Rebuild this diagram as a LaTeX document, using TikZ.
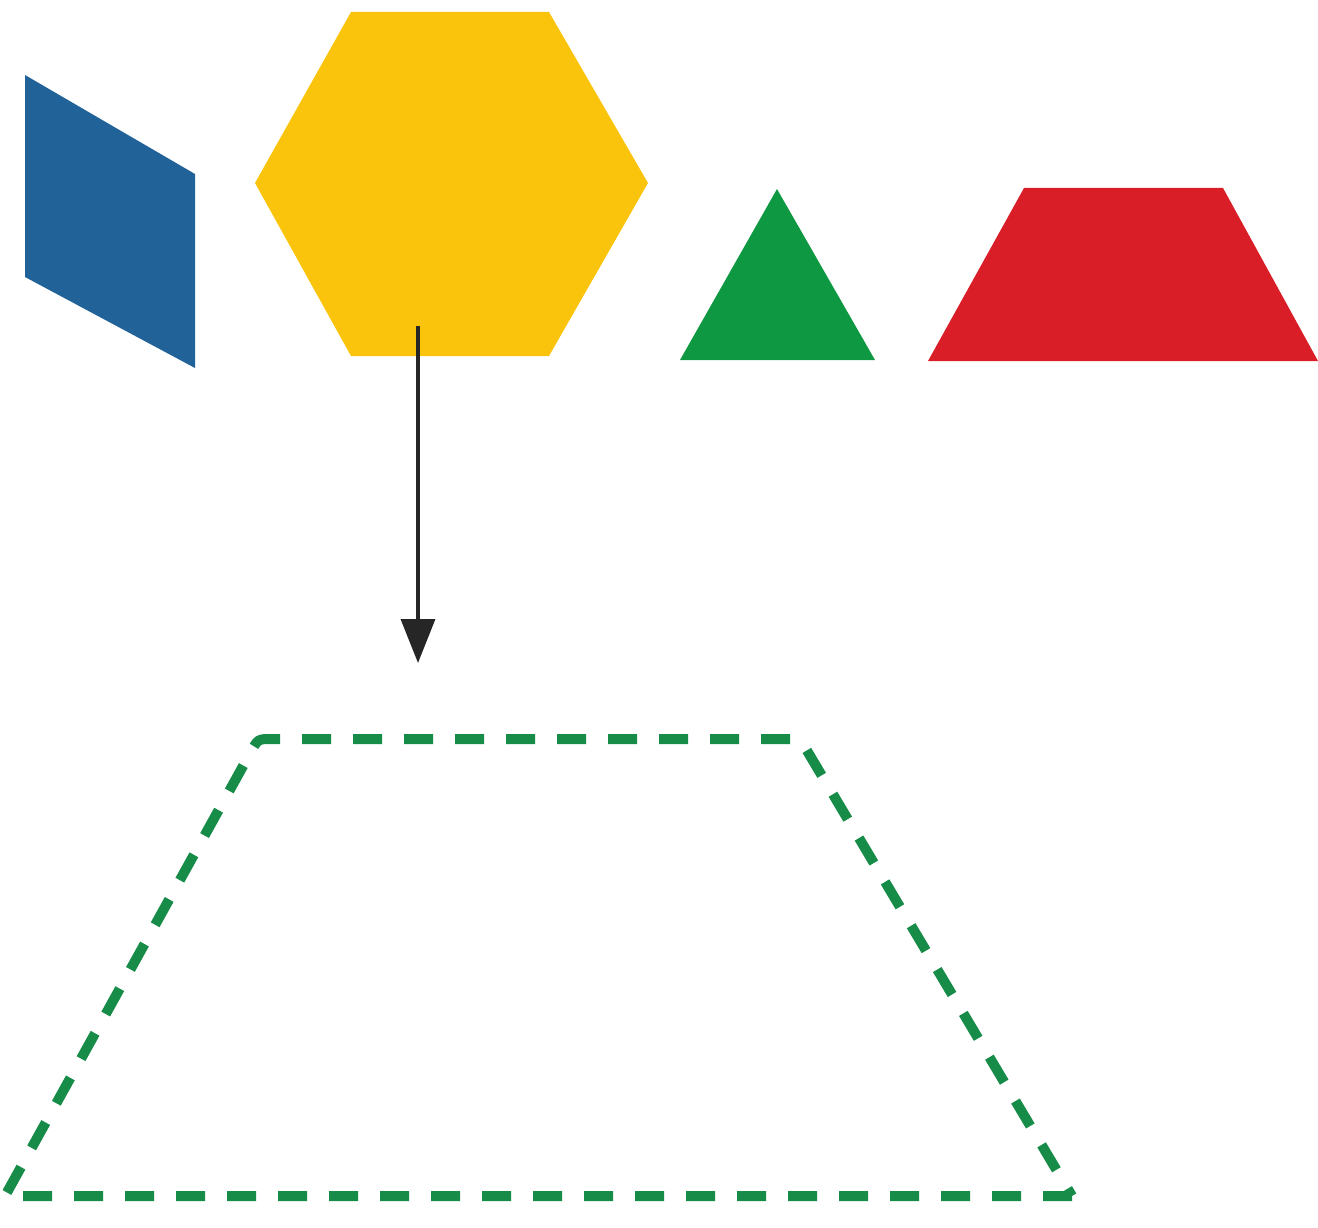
\documentclass[tikz,border=0pt]{standalone}
\usetikzlibrary{arrows.meta}
\definecolor{pbblue}{RGB}{33,98,152}
\definecolor{pbyellow}{RGB}{251,196,12}
\definecolor{pbgreen}{RGB}{14,152,66}
\definecolor{pbred}{RGB}{218,30,40}
\definecolor{outlinegreen}{RGB}{22,140,72}
\tikzset{
  piece/.style={line join=round},
  outline/.style={draw=outlinegreen, line width=10pt, dash pattern=on 29pt off 22pt},
  pointer/.style={draw=black!85, line width=3.5pt, -{Triangle[width=34pt,length=44pt]}}
}
\begin{document}
\begin{tikzpicture}[x=1pt,y=-1pt]
\useasboundingbox (0,0) rectangle (1318,1228);
% blue rhombus
\fill[pbblue, piece] (25,75) -- (195,174) -- (195,368) -- (25,277) -- cycle;
% yellow hexagon
\fill[pbyellow, piece] (351,12) -- (549,12) -- (648,183) -- (549,356) -- (351,356) -- (255,183) -- cycle;
% green triangle
\fill[pbgreen, piece] (777,189) -- (875,360) -- (680,360) -- cycle;
% red trapezoid
\fill[pbred, piece] (1024,188) -- (1223,188) -- (1318,361) -- (928,361) -- cycle;
% arrow
\coordinate (arrowstart) at (418,326);
\coordinate (arrowend) at (418,663);
\draw[pointer] (arrowstart) -- (arrowend);
% dashed outline
\draw[outline] (1072,1196) -- (5,1196) -- (251.2,751.3) .. controls (258,739) .. (272,739)
  -- (786,739) .. controls (800,739) .. (807.2,751) -- cycle;
\end{tikzpicture}
\end{document}
